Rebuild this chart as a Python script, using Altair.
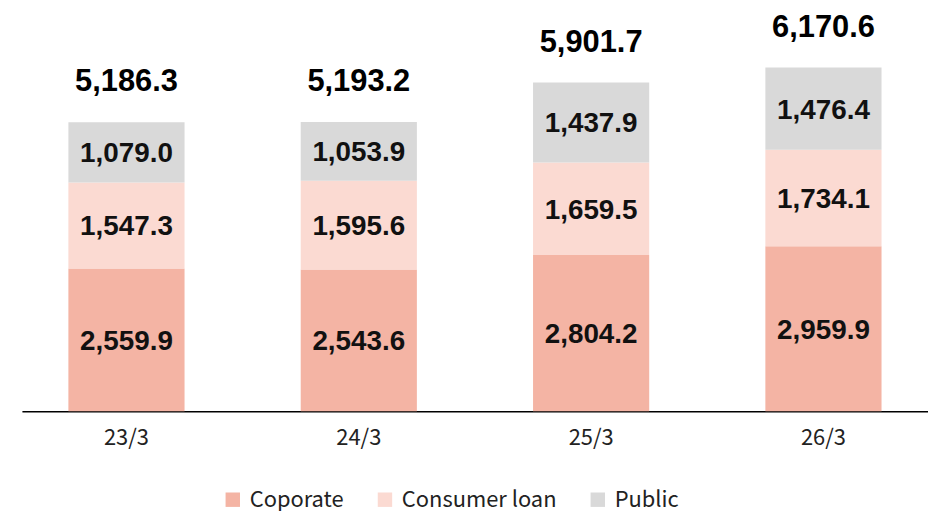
import altair as alt
import pandas as pd

periods = ["23/3", "24/3", "25/3", "26/3"]
series = ["Coporate", "Consumer loan", "Public"]
corporate = [2559.9, 2543.6, 2804.2, 2959.9]
consumer = [1547.3, 1595.6, 1659.5, 1734.1]
public = [1079.0, 1053.9, 1437.9, 1476.4]
totals = [5186.3, 5193.2, 5901.7, 6170.6]
colors = ["#F4B4A4", "#FBDAD2", "#D9D9D9"]

rows = []
for i, p in enumerate(periods):
    for k, (s, vals) in enumerate(zip(series, [corporate, consumer, public])):
        rows.append({"period": p, "series": s, "value": vals[i], "order": k})
df = pd.DataFrame(rows)
tot = pd.DataFrame({"period": periods, "total": totals,
                    "top": [c + d + e for c, d, e in zip(corporate, consumer, public)]})

x = alt.X("period:N", sort=periods, title=None,
          scale=alt.Scale(paddingInner=0.5, paddingOuter=0.2),
          axis=alt.Axis(labelAngle=0, labelFont="Noto Sans CJK JP", labelFontSize=22,
                        labelColor="#222222", labelPadding=17, ticks=False,
                        domainColor="#000000", domainWidth=1.5))
yscale = alt.Scale(domain=[0, 7107], nice=False)

bars = alt.Chart(df).mark_bar().encode(
    x=x,
    y=alt.Y("value:Q", stack="zero", scale=yscale, axis=None),
    color=alt.Color("series:N", sort=series,
                    scale=alt.Scale(domain=series, range=colors),
                    legend=alt.Legend(orient="none", legendX=201, legendY=476,
                                      direction="horizontal", title=None,
                                      symbolType="square",
                                      symbolSize=210, labelFont="Noto Sans CJK JP",
                                      labelFontSize=22, labelColor="#222222",
                                      columnPadding=30, labelOffset=6,
                                      symbolStrokeWidth=0)),
    order=alt.Order("order:Q", sort="ascending"),
)

seg_labels = alt.Chart(df).transform_stack(
    stack="value", groupby=["period"], as_=["y0", "y1"],
    sort=[alt.SortField("order", order="ascending")]
).transform_calculate(
    mid="(datum.y0 + datum.y1) / 2"
).mark_text(font="Liberation Sans", fontWeight="bold", fontSize=28,
            color="#111111", baseline="alphabetic", dy=10).encode(
    x=alt.X("period:N", sort=periods),
    y=alt.Y("mid:Q", scale=yscale),
    text=alt.Text("value:Q", format=",.1f"),
)

tot_labels = alt.Chart(tot).mark_text(font="Liberation Sans", fontWeight="bold",
                                       fontSize=31, color="#000000",
                                       baseline="alphabetic", dy=-31).encode(
    x=alt.X("period:N", sort=periods),
    y=alt.Y("top:Q", scale=yscale),
    text=alt.Text("total:Q", format=",.1f"),
)

chart = alt.layer(bars, seg_labels, tot_labels).properties(
    width=911, height=398,
    padding={"left": 14, "right": 0, "top": 2, "bottom": 0},
).configure_view(stroke=None)

chart.save("out.html", embed_options={"renderer": "svg", "actions": False})
